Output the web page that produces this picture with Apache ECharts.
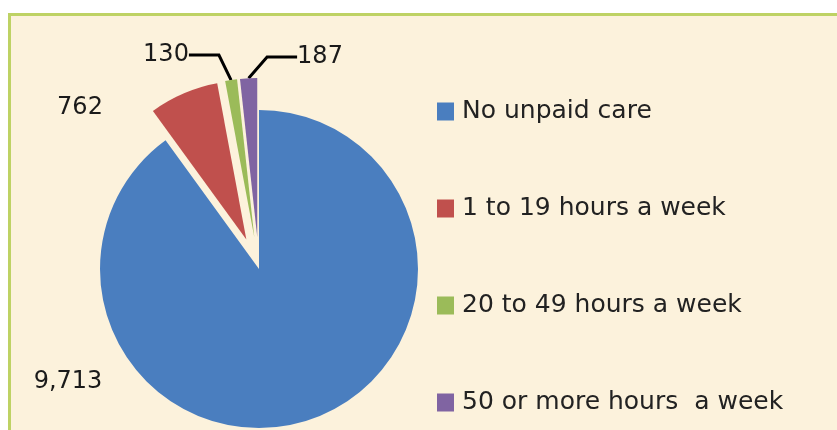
<!DOCTYPE html>
<html>
<head>
<meta charset="utf-8">
<script src="https://cdn.jsdelivr.net/npm/echarts@6/dist/echarts.min.js"></script>
<style>
  html, body { margin: 0; padding: 0; background: #fff; overflow: hidden; }
  #frame {
    position: absolute; left: 8px; top: 13px; width: 840px; height: 430px;
    background: #fcf2dc; border: 3px solid #bed264;
  }
  #main { position: absolute; left: 0; top: 0; width: 837px; height: 430px; }
</style>
</head>
<body>
<div id="frame"></div>
<div id="main"></div>
<script>
var categories = ['No unpaid care', '1 to 19 hours a week', '20 to 49 hours a week', '50 or more hours  a week']
var values = [9713, 762, 130, 187]
var colors = ['#4a7ebf', '#c0504d', '#9bbb59', '#8064a2']
// where each value label sits (text centre)
var labelSpots = [[68, 382], [80, 108], [166, 55], [320, 57]]

var pieCenter = [259, 269]
var pieRadius = 159
var explode = 32

var myChart = echarts.init(document.getElementById('main'))

// the slices, small ones pulled out
var sliceData = categories.map(function (name, i) {
    return {
        name: name,
        value: values[i],
        selected: i > 0,
        itemStyle: { color: colors[i] }
    }
})

// invisible copy, as big as the pulled-out slices reach, only for the value labels
var labelData = categories.map(function (name, i) {
    return {
        name: name,
        value: values[i],
        labelLine: { show: i >= 2 }
    }
})

var option = {
    animation: false,
    backgroundColor: 'transparent',
    legend: {
        orient: 'vertical',
        left: 437,
        top: 99,
        padding: 0,
        itemWidth: 17,
        itemHeight: 18,
        itemGap: 72,
        icon: 'rect',
        selectedMode: false,
        textStyle: { fontFamily: 'DejaVu Sans', fontSize: 25, lineHeight: 25, color: '#222', padding: [0, 0, 0, 3] },
        data: categories
    },
    series: [{
        type: 'pie',
        z: 2,
        center: pieCenter,
        radius: pieRadius,
        startAngle: 90,
        clockwise: true,
        selectedMode: 'multiple',
        selectedOffset: explode,
        silent: true,
        label: { show: false },
        labelLine: { show: false },
        data: sliceData
    }, {
        type: 'pie',
        z: 1,
        center: pieCenter,
        radius: pieRadius + explode,
        startAngle: 90,
        clockwise: true,
        silent: true,
        avoidLabelOverlap: false,
        itemStyle: { color: 'rgba(0,0,0,0)' },
        label: {
            show: true,
            position: 'outside',
            fontFamily: 'DejaVu Sans',
            fontSize: 24,
            color: '#1a1a1a',
            formatter: function (p) { return p.value.toLocaleString('en-US') }
        },
        labelLine: {
            lineStyle: { color: '#000', width: 3 }
        },
        labelLayout: function (params) {
            var s = labelSpots[params.dataIndex]
            return { x: s[0], y: s[1], align: 'center', verticalAlign: 'middle' }
        },
        data: labelData
    }]
}
myChart.setOption(option)
</script>
</body>
</html>
